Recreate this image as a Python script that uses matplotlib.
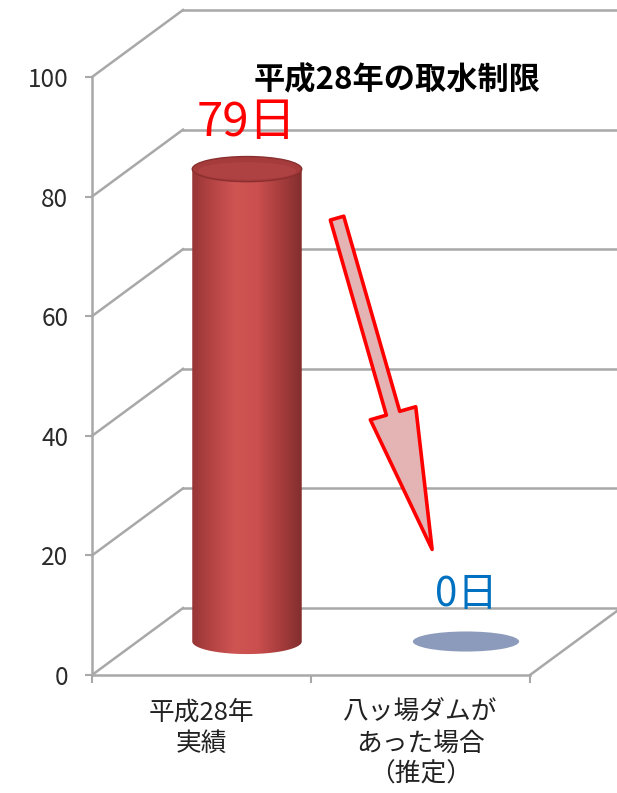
import numpy as np
import matplotlib.pyplot as plt
from matplotlib.patches import Ellipse, Polygon
from matplotlib.colors import LinearSegmentedColormap

plt.rcParams['font.family'] = ['Noto Sans CJK JP', 'DejaVu Sans']

categories = ['平成28年\n実績', '八ッ場ダムが\nあった場合\n（推定）']
values = [79, 0]
value_labels = ['79日', '0日']
label_colors = ['#FF0000', '#0070C0']
yticks = [0, 20, 40, 60, 80, 100]
title = '平成28年の取水制限'

W, H = 617, 793
fig = plt.figure(figsize=(W / 100, H / 100), dpi=100)
ax = fig.add_axes([92 / W, 1 - 675 / H, (530 - 92) / W, (675 - 77) / H])
ax.set_xlim(0, 2)
ax.set_ylim(0, 100)

# fake 3d depth offset (category units, value units)
dx, dy = 0.4155, 11.2
grid_c = '#A8A8A8'

for v in yticks:
    ax.plot([0, dx], [v, v + dy], color=grid_c, lw=1.8, clip_on=False, zorder=1)
    ax.plot([dx, 2 + dx + 0.3], [v + dy, v + dy], color=grid_c, lw=1.8, clip_on=False, zorder=1)
# floor right edge
ax.plot([2, 2 + dx], [0, dy], color=grid_c, lw=1.8, clip_on=False, zorder=1)

cmap = LinearSegmentedColormap.from_list(
    'cyl', ['#983636', '#B84545', '#CF5553', '#CA4F4E', '#A83D3D', '#832E2E'])

half_w = 0.25
ell_h = 4.2
for i, v in enumerate(values):
    cx = i + 0.5 + dx / 2
    base = dy / 2
    top = v + dy / 2
    if v > 0:
        t = np.linspace(np.pi, 2 * np.pi, 60)
        pts = [(cx - half_w, top)]
        pts += list(zip(cx + half_w * np.cos(t), base + ell_h / 2 * np.sin(t)))
        pts += [(cx + half_w, top)]
        body = Polygon(pts, closed=True, fc='none', ec='none')
        ax.add_patch(body)
        grad = np.linspace(0, 1, 256).reshape(1, -1)
        im = ax.imshow(grad, cmap=cmap, aspect='auto', zorder=3,
                       extent=(cx - half_w, cx + half_w, base - ell_h, top))
        im.set_clip_path(body)
        ax.add_patch(Ellipse((cx, top), 2 * half_w, ell_h, fc='#A63B3B',
                             ec='#8A2F2F', lw=1, zorder=4))
        ax.add_patch(Ellipse((cx, top - 0.3), 2 * half_w * 0.9, ell_h * 0.7,
                             fc='#AE4141', ec='none', zorder=4))
    else:
        ax.add_patch(Ellipse((cx, base), 2 * half_w * 0.97, ell_h * 0.8,
                             fc='#8C9BBC', ec='none', zorder=3))
    ax.text(cx, top + 7.8, value_labels[i], color=label_colors[i],
            fontsize=34 if v > 0 else 29, ha='center', va='center', zorder=5)

ax.annotate('', xy=(1.553, 21.0), xytext=(1.119, 76.4),
            arrowprops=dict(arrowstyle='simple,head_length=5.1,head_width=1.7,tail_width=0.5',
                            mutation_scale=20, fc='#E4B4B4', ec='#FF0000', lw=2.6,
                            shrinkA=0, shrinkB=0), zorder=6)

fig.text(397 / W, 1 - 80 / H, title, fontsize=22.5, fontweight='bold',
         ha='center', va='center')

for s in ['top', 'right']:
    ax.spines[s].set_visible(False)
for s in ['left', 'bottom']:
    ax.spines[s].set_color(grid_c)
    ax.spines[s].set_linewidth(1.8)

ax.set_yticks(yticks)
ax.set_yticklabels([str(v) for v in yticks], fontsize=17.5, color='#2A2A2A')
ax.tick_params(axis='y', length=5, width=1.5, color=grid_c, pad=12)
ax.set_xticks([0, 1, 2])
ax.set_xticklabels([])
ax.tick_params(axis='x', which='major', length=6, width=1.5, color=grid_c)
ax.set_xticks([0.5, 1.5], minor=True)
ax.set_xticklabels(categories, minor=True, fontsize=18.5, color='#222222', linespacing=1.25)
ax.tick_params(axis='x', which='minor', length=0, pad=18)
ax.set_facecolor('none')

fig.savefig('out.png', dpi=100)
